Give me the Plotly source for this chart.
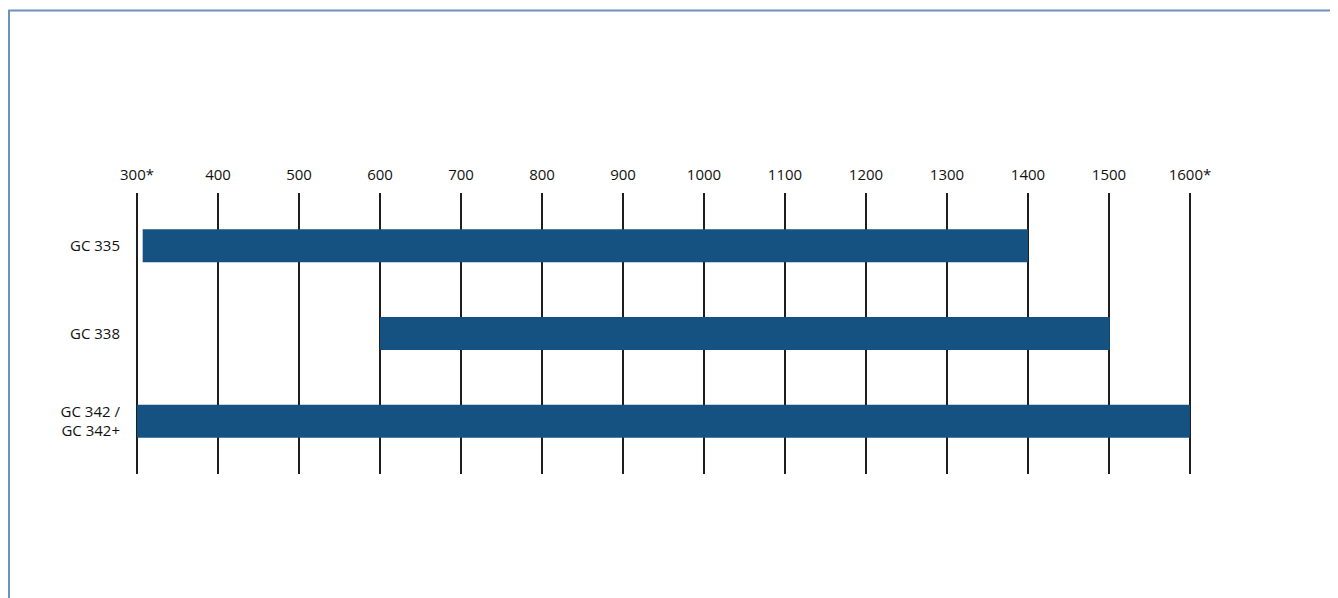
import plotly.graph_objects as go

# data
models = ['GC 335', 'GC 338', 'GC 342 /<br>GC 342+']
range_start = [307, 600, 300]
range_end = [1400, 1501, 1600]
tick_vals = [300, 400, 500, 600, 700, 800, 900, 1000, 1100, 1200, 1300, 1400, 1500, 1600]
tick_text = ['300*', '400', '500', '600', '700', '800', '900', '1000', '1100', '1200', '1300', '1400', '1500', '1600*']

lengths = [e - s for s, e in zip(range_start, range_end)]

fig = go.Figure()
fig.add_trace(go.Bar(
    y=models, x=lengths, base=range_start, orientation='h',
    marker=dict(color='#165281', line=dict(width=0)),
    width=0.376, showlegend=False, hoverinfo='skip'
))

fig.update_layout(
    width=1338, height=598,
    margin=dict(l=127, r=154, t=185, b=132),
    plot_bgcolor='white', paper_bgcolor='white',
    font=dict(family='Open Sans, Noto Sans, sans-serif', size=15, color='#111'),
    xaxis=dict(
        side='top', range=[297.5, 1602.5],
        tickvals=tick_vals, ticktext=tick_text,
        showgrid=True, gridcolor='#1e1e1e', gridwidth=1.5,
        zeroline=False, showline=False, ticks='', ticklabelstandoff=9,
    ),
    yaxis=dict(
        type='category', range=[2.6, -0.6],
        showgrid=False, zeroline=False, showline=False, ticks='',
        ticklabelstandoff=14,
    ),
    shapes=[
        # thin frame along top and left edge of the page
        dict(type='line', xref='paper', yref='paper', x0=-0.12, x1=1.2, y0=1.6495, y1=1.6495,
             line=dict(color='#6f8fbd', width=2)),
        dict(type='line', xref='paper', yref='paper', x0=-0.1192, x1=-0.1192, y0=1.6495, y1=-0.5,
             line=dict(color='#6f8fbd', width=2)),
    ],
)

fig.write_html('out.html')
